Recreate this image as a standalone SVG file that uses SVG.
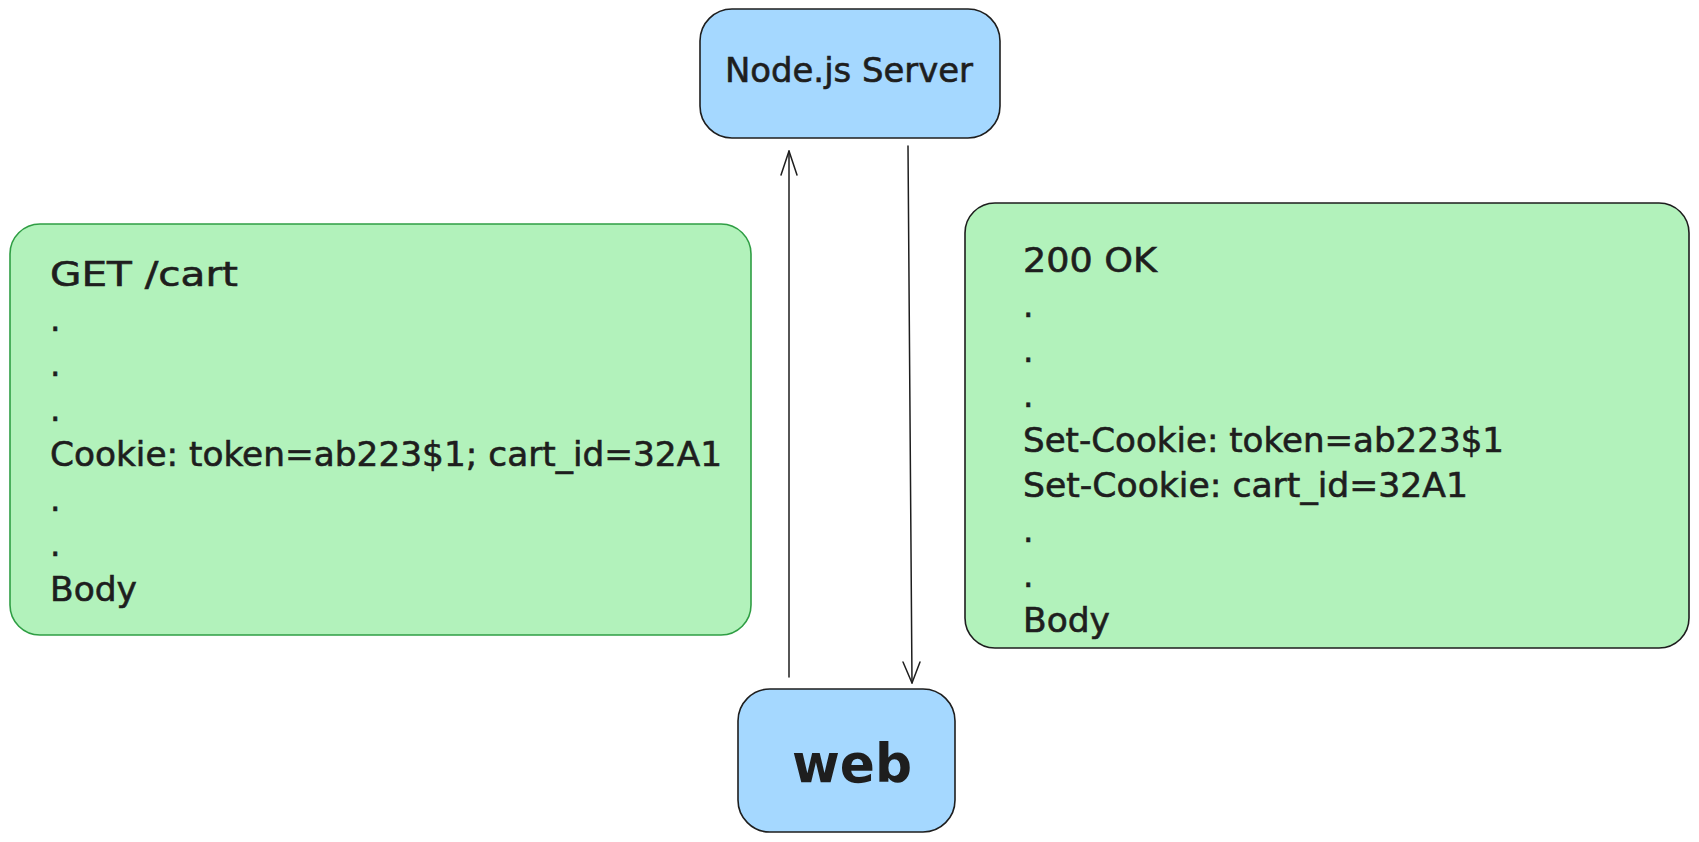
<svg xmlns="http://www.w3.org/2000/svg" width="1699" height="842" viewBox="0 0 1699 842">
<style>
.t{font-family:"DejaVu Sans","Liberation Sans",sans-serif;font-size:33px;fill:#1e1e1e;stroke:#1e1e1e;stroke-width:0.6}
.blue{fill:#a5d8ff;stroke:#1e1e1e;stroke-width:1.6}
.green{fill:#b2f2bb;stroke-width:1.6}
.conn{fill:none;stroke:#1e1e1e;stroke-width:1.5;stroke-linecap:round;stroke-linejoin:round}
</style>
<rect width="1699" height="842" fill="#ffffff"/>
<g id="node-server">
<rect class="blue" x="700" y="9" width="300" height="129" rx="32"/>
<text class="t" x="725" y="82" textLength="248" lengthAdjust="spacingAndGlyphs">Node.js Server</text>
</g>
<g id="node-web">
<rect class="blue" x="738" y="689" width="217" height="143" rx="32"/>
<text class="t" x="792" y="782" style="font-size:54px;font-weight:bold;stroke-width:0" textLength="120" lengthAdjust="spacingAndGlyphs">web</text>
</g>
<g id="node-request">
<rect class="green" stroke="#2f9e44" x="10" y="224" width="741" height="411" rx="30"/>
<text class="t" x="50" y="286" textLength="188" lengthAdjust="spacingAndGlyphs">GET /cart</text>
<text class="t" x="50" y="331">.</text>
<text class="t" x="50" y="376">.</text>
<text class="t" x="50" y="421">.</text>
<text class="t" x="50" y="466" textLength="672" lengthAdjust="spacingAndGlyphs">Cookie: token=ab223$1; cart_id=32A1</text>
<text class="t" x="50" y="511">.</text>
<text class="t" x="50" y="556">.</text>
<text class="t" x="50" y="601" textLength="87" lengthAdjust="spacingAndGlyphs">Body</text>
</g>
<g id="node-response">
<rect class="green" stroke="#1e1e1e" x="965" y="203" width="724" height="445" rx="30"/>
<text class="t" x="1023" y="272" textLength="134" lengthAdjust="spacingAndGlyphs">200 OK</text>
<text class="t" x="1023" y="317">.</text>
<text class="t" x="1023" y="362">.</text>
<text class="t" x="1023" y="407">.</text>
<text class="t" x="1023" y="452" textLength="481" lengthAdjust="spacingAndGlyphs">Set-Cookie: token=ab223$1</text>
<text class="t" x="1023" y="497" textLength="445" lengthAdjust="spacingAndGlyphs">Set-Cookie: cart_id=32A1</text>
<text class="t" x="1023" y="542">.</text>
<text class="t" x="1023" y="587">.</text>
<text class="t" x="1023" y="632" textLength="87" lengthAdjust="spacingAndGlyphs">Body</text>
</g>
<g id="connectors">
<path class="conn" d="M789 677 L789 151"/>
<path class="conn" d="M781 175 L789 151 L797 175"/>
<path class="conn" d="M908 146 L912 683"/>
<path class="conn" d="M903 662 L912 683 L920 662"/>
</g>
</svg>
